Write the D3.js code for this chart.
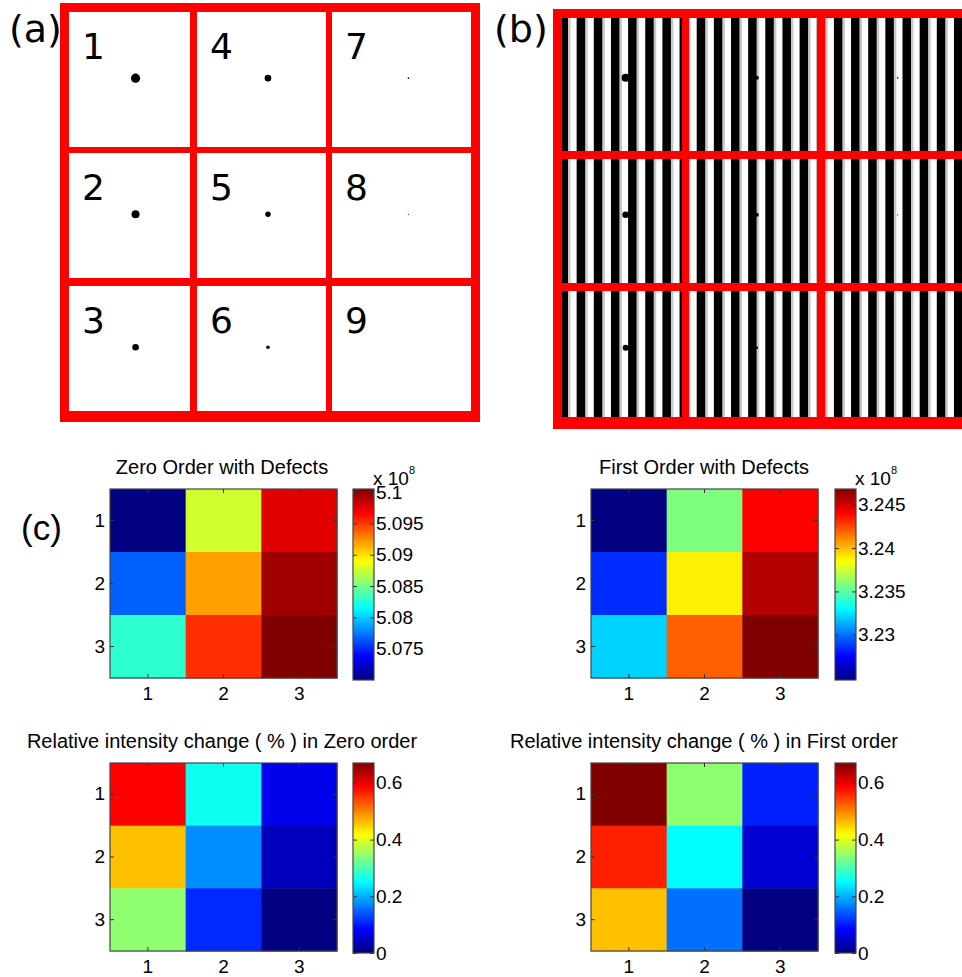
<!DOCTYPE html>
<html>
<head>
<meta charset="utf-8">
<script src="https://cdn.jsdelivr.net/npm/d3@7"></script>
<style>
  body { margin: 0; background: #fff; }
  svg { display: block; }
  .tick line { stroke: #333; }
  .ax text { font-family: "Liberation Sans", Arial, Helvetica, sans-serif; font-size: 19px; fill: #000; }
</style>
</head>
<body>
<svg id="fig"></svg>
<script>
// ---- data ----
var tickLabels = ["1", "2", "3"];

// defect dot radius in each grid cell (rows top->bottom, cols left->right)
var defectsA = [[4.6, 3.3, 0.8], [4, 2.7, 0.6], [3.3, 1.8, 0]];
var defectsB = [[4, 2, 0.8], [3.3, 2, 0.6], [3, 1.2, 0]];
// cell numbering in (a), column-major
var cellNumbers = [["1", "4", "7"], ["2", "5", "8"], ["3", "6", "9"]];

// intensities (x 10^8)
var zeroOrder = [[5.0700, 5.0877, 5.0976],
                 [5.0767, 5.0919, 5.0995],
                 [5.0828, 5.0953, 5.1005]];
var firstOrder = [[3.2248, 3.2358, 3.2441],
                  [3.2285, 3.2389, 3.2457],
                  [3.2321, 3.2420, 3.2468]];
// relative intensity change (%)
var zeroChange = [[0.586, 0.26, 0.07],
                  [0.46, 0.178, 0.04],
                  [0.345, 0.11, 0.0]];
var firstChange = [[0.67, 0.345, 0.105],
                   [0.565, 0.25, 0.054],
                   [0.46, 0.157, 0.0]];

var zeroTicks = [5.075, 5.08, 5.085, 5.09, 5.095, 5.1];
var firstTicks = [3.23, 3.235, 3.24, 3.245];
var changeTicks = [0, 0.2, 0.4, 0.6];

// ---- page ----
var screen = {width: 962, height: 977};
var svg = d3.select("#fig")
    .attr("width", screen.width)
    .attr("height", screen.height);
var defs = svg.append("defs");
var red = "#ff0000";

var jet = function(t) {
    t = Math.max(0, Math.min(1, t));
    var c = function(v) { return Math.round(255 * Math.max(0, Math.min(1, v))); };
    return d3.rgb(c(1.5 - Math.abs(4 * t - 3)), c(1.5 - Math.abs(4 * t - 2)), c(1.5 - Math.abs(4 * t - 1)));
};

var bandScale = function(edges) {
    // edges: [start,end] per cell
    return function(i) { return edges[i]; };
};

// frame panels (a) and (b): cell edges and red bands
var panelA = {
    cols: [[69, 190], [197, 326], [332, 471]],
    rows: [[12, 147], [153, 278], [286, 411]],
    bands: [[60, 3, 9, 419], [471, 3, 9, 419], [60, 3, 420, 9], [60, 411, 420, 11],
            [190, 3, 7, 419], [326, 3, 6, 419], [60, 147, 420, 6], [60, 278, 420, 8]],
    dotX: 0.55, dotY: 0.49
};
var panelB = {
    cols: [[562, 682], [689, 817], [825, 962]],
    rows: [[18, 151], [159, 283], [291, 417]],
    bands: [[553, 9, 9, 420], [553, 9, 409, 9], [553, 417, 409, 12],
            [682, 9, 7, 420], [817, 9, 8, 420], [553, 151, 409, 8], [553, 283, 409, 8]],
    dotX: 0.53, dotY: 0.45
};

var drawFrame = function(p) {
    var g = svg.append("g");
    return g;
};

var drawBands = function(g, p) {
    g.selectAll("rect.band").data(p.bands).enter().append("rect")
        .attr("class", "band")
        .attr("x", function(d) { return d[0]; })
        .attr("y", function(d) { return d[1]; })
        .attr("width", function(d) { return d[2]; })
        .attr("height", function(d) { return d[3]; })
        .attr("fill", red);
};

var drawDots = function(g, p, sizes) {
    var dots = [];
    sizes.forEach(function(row, r) {
        row.forEach(function(s, c) { dots.push({r: r, c: c, s: s}); });
    });
    var col = bandScale(p.cols), row = bandScale(p.rows);
    g.selectAll("circle.defect").data(dots.filter(function(d) { return d.s > 0; }))
        .enter().append("circle")
        .attr("class", "defect")
        .attr("cx", function(d) { var e = col(d.c); return e[0] + p.dotX * (e[1] - e[0]); })
        .attr("cy", function(d) { var e = row(d.r); return e[0] + p.dotY * (e[1] - e[0]); })
        .attr("r", function(d) { return d.s; })
        .attr("fill", "#000");
};

// (a)
var gA = svg.append("g");
gA.append("rect").attr("x", 60).attr("y", 3).attr("width", 420).attr("height", 419).attr("fill", "#fff");
drawBands(gA, panelA);
var numbers = [];
cellNumbers.forEach(function(row, r) {
    row.forEach(function(n, c) { numbers.push({r: r, c: c, n: n}); });
});
gA.selectAll("text.num").data(numbers).enter().append("text")
    .attr("class", "num")
    .attr("x", function(d) { return panelA.cols[d.c][0] + 13; })
    .attr("y", function(d) { return panelA.rows[d.r][0] + 47; })
    .attr("font-family", "'DejaVu Sans', sans-serif")
    .attr("font-size", 36)
    .text(function(d) { return d.n; });
drawDots(gA, panelA, defectsA);

// (b) grating
var gB = svg.append("g");
defs.append("clipPath").attr("id", "clipB")
    .append("rect").attr("x", 553).attr("y", 9).attr("width", 409).attr("height", 420);
var grating = {start: 559.5, period: 17.15, black: 8.5};
var stripes = d3.range(grating.start, 962, grating.period);
var gS = gB.append("g").attr("clip-path", "url(#clipB)");
gS.append("rect").attr("x", 553).attr("y", 9).attr("width", 409).attr("height", 420).attr("fill", "#fff");
gS.selectAll("rect.gray").data(stripes).enter().append("rect")
    .attr("x", function(d) { return d + grating.black; })
    .attr("y", 9).attr("width", 2.5).attr("height", 420)
    .attr("fill", "#c8c8c8");
gS.selectAll("rect.black").data(stripes).enter().append("rect")
    .attr("x", function(d) { return d; })
    .attr("y", 9).attr("width", grating.black).attr("height", 420)
    .attr("fill", "#000");
drawBands(gB, panelB);
drawDots(gB, panelB, defectsB);

// panel letters
var letter = function(txt, x, y, size, family) {
    svg.append("text").attr("x", x).attr("y", y)
        .attr("font-family", family).attr("font-size", size)
        .text(txt);
};
letter("(a)", 9, 42, 38, "'DejaVu Sans', sans-serif");
letter("(b)", 494, 42, 38, "'DejaVu Sans', sans-serif");
letter("(c)", 21, 540, 35, "'Liberation Sans', Arial, sans-serif");

// ---- heatmaps ----
var drawHeatmap = function(o) {
    var g = svg.append("g").attr("class", "ax");
    var box = o.box;
    var x = d3.scaleBand().domain(tickLabels).range([box.x, box.x + box.w]);
    var y = d3.scaleBand().domain(tickLabels).range([box.y, box.y + box.h]);
    var lo = o.domain[0], hi = o.domain[1];
    var color = function(v) { return jet((v - lo) / (hi - lo)); };

    var cells = [];
    o.values.forEach(function(row, r) {
        row.forEach(function(v, c) { cells.push({r: tickLabels[r], c: tickLabels[c], v: v}); });
    });
    g.selectAll("rect.cell").data(cells).enter().append("rect")
        .attr("x", function(d) { return x(d.c); })
        .attr("y", function(d) { return y(d.r); })
        .attr("width", x.bandwidth() + 0.5)
        .attr("height", y.bandwidth() + 0.5)
        .attr("fill", function(d) { return color(d.v); });

    var bottom = g.append("g").attr("transform", "translate(0," + (box.y + box.h) + ")")
        .call(d3.axisBottom(x).tickSizeInner(-4).tickSizeOuter(0).tickPadding(9));
    var left = g.append("g").attr("transform", "translate(" + box.x + ",0)")
        .call(d3.axisLeft(y).tickSizeInner(-4).tickSizeOuter(0).tickPadding(5));
    var top = g.append("g").attr("transform", "translate(0," + box.y + ")")
        .call(d3.axisTop(x).tickSizeInner(-4).tickSizeOuter(0).tickFormat(""));
    var right = g.append("g").attr("transform", "translate(" + (box.x + box.w) + ",0)")
        .call(d3.axisRight(y).tickSizeInner(-4).tickSizeOuter(0).tickFormat(""));
    [bottom, left, top, right].forEach(function(a) { a.select(".domain").remove(); });
    g.append("rect").attr("x", box.x).attr("y", box.y).attr("width", box.w).attr("height", box.h)
        .attr("fill", "none").attr("stroke", "#444").attr("stroke-width", 1.2);

    g.append("text").attr("x", o.titleX).attr("y", box.y - 15)
        .attr("text-anchor", "middle")
        .style("font-size", "20px")
        .text(o.title);

    // colorbar
    var gid = "grad" + o.id;
    var grad = defs.append("linearGradient").attr("id", gid)
        .attr("x1", 0).attr("y1", 1).attr("x2", 0).attr("y2", 0);
    d3.range(0, 64).forEach(function(i) {
        grad.append("stop").attr("offset", i / 63).attr("stop-color", jet(i / 63));
    });
    var bar = {x: o.barX, y: box.y, w: 21, h: box.h + 2};
    g.append("rect").attr("x", bar.x).attr("y", bar.y).attr("width", bar.w).attr("height", bar.h)
        .attr("fill", "url(#" + gid + ")");
    var cy = d3.scaleLinear().domain([lo, hi]).range([bar.y + bar.h, bar.y]);
    var cr = g.append("g").attr("transform", "translate(" + (bar.x + bar.w) + ",0)")
        .call(d3.axisRight(cy).tickValues(o.ticks).tickSizeInner(-4).tickSizeOuter(0).tickPadding(2)
            .tickFormat(function(d) { return String(d); }));
    var cl = g.append("g").attr("transform", "translate(" + bar.x + ",0)")
        .call(d3.axisLeft(cy).tickValues(o.ticks).tickSizeInner(-4).tickSizeOuter(0).tickFormat(""));
    cr.select(".domain").remove();
    cl.select(".domain").remove();
    g.append("rect").attr("x", bar.x).attr("y", bar.y).attr("width", bar.w).attr("height", bar.h)
        .attr("fill", "none").attr("stroke", "#444").attr("stroke-width", 1.2);

    if (o.exponent) {
        var ex = g.append("text").attr("x", bar.x + bar.w - 1).attr("y", bar.y - 4)
            .style("font-size", "19px");
        ex.append("tspan").text("x 10");
        ex.append("tspan").attr("dy", -11).style("font-size", "11px").text(o.exponent);
    }
};

var changeMax = d3.max(zeroChange.concat(firstChange), function(r) { return d3.max(r); });

drawHeatmap({id: 1, title: "Zero Order with Defects", values: zeroOrder, exponent: "8",
    domain: d3.extent(d3.merge(zeroOrder)), ticks: zeroTicks,
    box: {x: 110, y: 489, w: 227, h: 189}, barX: 353, titleX: 222});
drawHeatmap({id: 2, title: "First Order with Defects", values: firstOrder, exponent: "8",
    domain: d3.extent(d3.merge(firstOrder)), ticks: firstTicks,
    box: {x: 591, y: 489, w: 227, h: 189}, barX: 835, titleX: 704});
drawHeatmap({id: 3, title: "Relative intensity change ( % ) in Zero order", values: zeroChange,
    domain: [0, changeMax], ticks: changeTicks,
    box: {x: 110, y: 763, w: 227, h: 188}, barX: 353, titleX: 222});
drawHeatmap({id: 4, title: "Relative intensity change ( % ) in First order", values: firstChange,
    domain: [0, changeMax], ticks: changeTicks,
    box: {x: 591, y: 763, w: 227, h: 188}, barX: 835, titleX: 704});
</script>
</body>
</html>
